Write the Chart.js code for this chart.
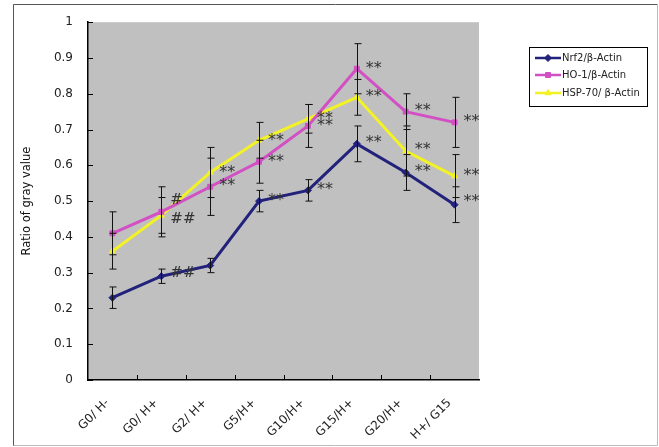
<!DOCTYPE html>
<html>
<head>
<meta charset="utf-8">
<script src="https://cdn.jsdelivr.net/npm/chart.js@4.4.0/dist/chart.umd.min.js"></script>
<style>
html,body{margin:0;padding:0;background:#fff;}
#c{display:block;}
</style>
</head>
<body>
<canvas id="c" width="659" height="447"></canvas>
<script>
const categories = ["G0/ H-", "G0/ H+", "G2/ H+", "G5/H+", "G10/H+", "G15/H+", "G20/H+", "H+/ G15"];
const yTickLabels = ["0", "0.1", "0.2", "0.3", "0.4", "0.5", "0.6", "0.7", "0.8", "0.9", "1"];

const nrf2Values = [0.23, 0.29, 0.32, 0.50, 0.53, 0.66, 0.58, 0.49];
const nrf2Errors = [0.03, 0.02, 0.02, 0.03, 0.03, 0.05, 0.05, 0.05];
const ho1Values  = [0.41, 0.47, 0.54, 0.61, 0.71, 0.87, 0.75, 0.72];
const ho1Errors  = [0.06, 0.07, 0.08, 0.06, 0.06, 0.07, 0.05, 0.07];
const hspValues  = [0.36, 0.46, 0.58, 0.67, 0.73, 0.79, 0.64, 0.57];
const hspErrors  = [0.05, 0.05, 0.07, 0.05, 0.04, 0.05, 0.07, 0.06];

const seriesLabels = ["Nrf2/\u03b2-Actin", "HO-1/\u03b2-Actin", "HSP-70/ \u03b2-Actin"];

// significance marks: text, category index, y value
const markTexts = ["#", "##", "##", "**", "**", "**", "**", "**", "**", "**", "**", "**", "**", "**", "**", "**", "**", "**", "**", "**"];
const markCats  = [1, 1, 1, 2, 2, 3, 3, 3, 4, 4, 4, 5, 5, 5, 6, 6, 6, 7, 7, 7];
const markVals  = [0.503, 0.45, 0.298, 0.586, 0.55, 0.677, 0.619, 0.508, 0.738, 0.718, 0.539, 0.878, 0.80, 0.671, 0.762, 0.652, 0.591, 0.729, 0.58, 0.506];

const colors = ["#22227c", "#d24fc4", "#f2f224"];
const markers = ["rectRot", "rect", "triangle"];

const errorSets = [nrf2Errors, ho1Errors, hspErrors];

const framePlugin = {
  id: 'frame',
  beforeDraw(chart) {
    const ctx = chart.ctx, a = chart.chartArea;
    ctx.save();
    ctx.fillStyle = '#fff';
    ctx.fillRect(0, 0, chart.width, chart.height);
    ctx.fillStyle = '#c0c0c0';
    ctx.fillRect(a.left, a.top, a.right - a.left, a.bottom - a.top);
    // outer frame
    ctx.strokeStyle = '#555';
    ctx.lineWidth = 1;
    ctx.beginPath();
    ctx.moveTo(13.5, 446); ctx.lineTo(13.5, 4.5); ctx.lineTo(657.5, 4.5);
    ctx.stroke();
    ctx.strokeStyle = '#bbb';
    ctx.beginPath();
    ctx.moveTo(657.5, 4.5); ctx.lineTo(657.5, 445.5); ctx.lineTo(13.5, 445.5);
    ctx.stroke();
    ctx.restore();
  },
  afterDatasetsDraw(chart) {
    const ctx = chart.ctx, a = chart.chartArea;
    const xs = chart.scales.x, ys = chart.scales.y;
    ctx.save();
    // inward tick marks
    ctx.strokeStyle = '#000';
    ctx.lineWidth = 1;
    ctx.beginPath();
    ys.ticks.forEach((t, i) => {
      const y = Math.round(ys.getPixelForTick(i)) + 0.5;
      ctx.moveTo(a.left, y); ctx.lineTo(a.left + 5, y);
    });
    for (let i = 1; i < categories.length; i++) {
      const x = Math.round((xs.getPixelForValue(i - 1) + xs.getPixelForValue(i)) / 2) + 0.5;
      ctx.moveTo(x, a.bottom); ctx.lineTo(x, a.bottom - 5);
    }
    ctx.stroke();
    // error bars
    ctx.strokeStyle = '#111';
    ctx.lineWidth = 1;
    chart.data.datasets.forEach((ds, di) => {
      const errs = errorSets[di];
      ds.data.forEach((v, i) => {
        const x = Math.round(xs.getPixelForValue(i)) + 0.5;
        const yt = ys.getPixelForValue(v + errs[i]);
        const yb = ys.getPixelForValue(v - errs[i]);
        ctx.beginPath();
        ctx.moveTo(x, yt); ctx.lineTo(x, yb);
        ctx.moveTo(x - 3, yt); ctx.lineTo(x + 4, yt);
        ctx.moveTo(x - 3, yb); ctx.lineTo(x + 4, yb);
        ctx.stroke();
      });
    });
    // significance marks
    ctx.fillStyle = '#333';
    ctx.textAlign = 'left';
    ctx.textBaseline = 'middle';
    markTexts.forEach((t, k) => {
      const x = xs.getPixelForValue(markCats[k]) + 9;
      const y = ys.getPixelForValue(markVals[k]);
      const isHash = t.indexOf('#') >= 0;
      ctx.font = isHash ? '15px "DejaVu Serif"' : '16px "DejaVu Sans"';
      ctx.fillText(t, x, y + (isHash ? 0 : 3));
    });
    // legend
    const lx = 529.5, ly = 47.5, lw = 118, lh = 59;
    ctx.strokeStyle = '#000';
    ctx.lineWidth = 1;
    ctx.strokeRect(lx, ly, lw, lh);
    const rows = [58, 75, 93];
    ctx.font = '10px "DejaVu Sans"';
    ctx.textBaseline = 'middle';
    chart.data.datasets.forEach((ds, di) => {
      const y = rows[di];
      ctx.strokeStyle = ds.borderColor;
      ctx.lineWidth = 2.5;
      ctx.beginPath();
      ctx.moveTo(535, y); ctx.lineTo(561, y);
      ctx.stroke();
      ctx.fillStyle = ds.borderColor;
      ctx.strokeStyle = ds.borderColor;
      ctx.lineWidth = 1;
      Chart.helpers.drawPoint(ctx, {pointStyle: ds.pointStyle, radius: 3.5, borderWidth: 1}, 548, y);
      ctx.fillStyle = '#222';
      ctx.fillText(ds.label, 562, y);
    });
    ctx.restore();
  }
};

const datasets = [nrf2Values, ho1Values, hspValues].map((vals, i) => ({
  label: seriesLabels[i],
  data: vals,
  borderColor: colors[i],
  backgroundColor: colors[i],
  borderWidth: 3,
  pointStyle: markers[i],
  pointRadius: 3.5,
  pointBorderWidth: 1,
  tension: 0,
  fill: false
}));

new Chart(document.getElementById('c'), {
  type: 'line',
  data: { labels: categories, datasets: datasets },
  plugins: [framePlugin],
  options: {
    responsive: false,
    animation: false,
    devicePixelRatio: 1,
    layout: { padding: { left: 14, top: 18, right: 180, bottom: 0 } },
    plugins: { legend: { display: false }, tooltip: { enabled: false } },
    scales: {
      x: {
        type: 'category',
        offset: true,
        grid: { display: false, drawTicks: false },
        border: { display: true, color: '#000', width: 1.5 },
        ticks: {
          color: '#222',
          font: { family: 'DejaVu Sans', size: 12 },
          maxRotation: 45, minRotation: 45,
          padding: 16,
          labelOffset: -5,
          autoSkip: false
        },
        afterFit(s) { s.height = 67; }
      },
      y: {
        min: 0, max: 1,
        grid: { display: false, drawTicks: false },
        border: { display: true, color: '#000', width: 1.5 },
        ticks: {
          stepSize: 0.1,
          color: '#222',
          font: { family: 'DejaVu Sans', size: 12 },
          padding: 15,
          callback: (v, i) => yTickLabels[i]
        },
        title: {
          display: true,
          text: 'Ratio of gray value',
          color: '#111',
          font: { family: 'DejaVu Sans', size: 11.5 },
          padding: { top: 6, bottom: 0 }
        },
        afterFit(s) { s.width = 74; }
      }
    }
  }
});
</script>
</body>
</html>
